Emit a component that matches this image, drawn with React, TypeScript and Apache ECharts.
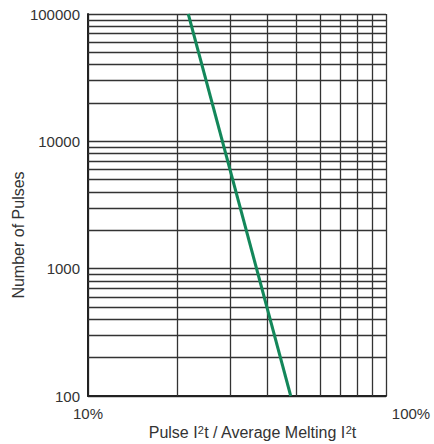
import React, { useEffect, useRef } from "react";
import * as echarts from "echarts";

const curveX = [21.7, 47.9];
const curveY = [100000, 100];
const xGridValues = [20, 30, 40, 50, 60, 70, 80, 90];
const yGridValues = [
  200, 300, 400, 500, 600, 700, 800, 900,
  2000, 3000, 4000, 5000, 6000, 7000, 8000, 9000,
  20000, 30000, 40000, 50000, 60000, 70000, 80000, 90000,
];
const yTicks = [100, 1000, 10000, 100000];
const xTicks = [10, 100];

const FONT = "Arial, 'Liberation Sans', Helvetica, sans-serif";

export default function App() {
  const ref = useRef<HTMLDivElement>(null);
  useEffect(() => {
    if (!ref.current) return;
    const chart = echarts.init(ref.current, null, { renderer: "svg" });
    const gridLine = { color: "#333", width: 1.3, type: "solid" };
    chart.setOption({
      animation: false,
      grid: { left: 88, right: 48, top: 14, bottom: 48, containLabel: false, outerBoundsMode: "none" },
      xAxis: {
        type: "log",
        logBase: 10,
        min: xTicks[0],
        max: xTicks[1],
        name: "Pulse I{s|2}t / Average Melting I{s|2}t",
        nameLocation: "middle",
        nameGap: 28,
        nameMoveOverlap: false,
        nameTextStyle: {
          fontSize: 16,
          color: "#333",
          fontFamily: FONT,
          padding: [0, 0, 0, 31],
          rich: {
            s: { fontSize: 11, color: "#333", fontFamily: FONT, padding: [0, 0, 5, 0] },
          },
        },
        axisLine: { show: true, lineStyle: { color: "#222", width: 2 } },
        axisTick: { show: false },
        splitLine: { show: true, lineStyle: gridLine },
        axisLabel: {
          margin: 10,
          fontSize: 15,
          color: "#333",
          fontFamily: FONT,
          formatter: (v: number) =>
            Math.abs(v - xTicks[1]) < 1e-6 ? "{r|" + Math.round(v) + "%}" : "{l|" + Math.round(v) + "%}",
          rich: {
            l: { fontSize: 15, color: "#333", fontFamily: FONT },
            r: { fontSize: 15, color: "#333", fontFamily: FONT, padding: [0, 0, 0, 50] },
          },
        },
      },
      yAxis: {
        type: "log",
        logBase: 10,
        min: yTicks[0],
        max: yTicks[yTicks.length - 1],
        name: "Number of Pulses",
        nameLocation: "middle",
        nameGap: 62,
        nameMoveOverlap: false,
        nameTextStyle: {
          fontSize: 16,
          color: "#333",
          fontFamily: FONT,
          padding: [0, 60, 0, 0],
        },
        axisLine: { show: true, lineStyle: { color: "#222", width: 2 } },
        axisTick: { show: false },
        splitLine: { show: true, lineStyle: gridLine },
        axisLabel: {
          margin: 8,
          fontSize: 15,
          color: "#333",
          fontFamily: FONT,
          formatter: (v: number) => String(Math.round(v)),
        },
      },
      series: [
        {
          type: "line",
          data: curveX.map((x, i) => [x, curveY[i]]),
          symbol: "none",
          lineStyle: { color: "#13875a", width: 3 },
          clip: true,
          z: 5,
          markLine: {
            silent: true,
            symbol: "none",
            label: { show: false },
            lineStyle: gridLine,
            data: [
              ...xGridValues.map((v) => ({ xAxis: v })),
              ...yGridValues.map((v) => ({ yAxis: v })),
            ],
            z: 1,
          },
        },
      ],
    });
    return () => chart.dispose();
  }, []);
  return <div ref={ref} style={{ width: 434, height: 444, position: "absolute", left: 0, top: 0 }} />;
}
